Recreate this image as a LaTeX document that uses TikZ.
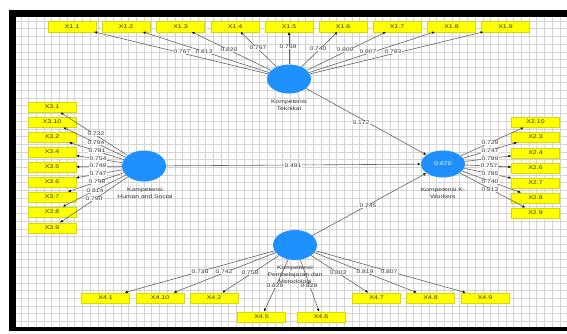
\documentclass[tikz,border=0pt]{standalone}
\usepackage{fontspec}
\setmainfont{Liberation Sans}[FakeStretch=1.3]
\usetikzlibrary{arrows.meta,shapes.geometric}
\definecolor{plsyellow}{RGB}{255,255,0}
\definecolor{plsblue}{RGB}{30,144,255}
\definecolor{gridgray}{RGB}{212,212,212}
\definecolor{linegray}{RGB}{100,100,100}
\tikzset{
 ind/.style={rectangle, fill=plsyellow, draw=plsyellow!85!black, line width=0.2pt, minimum width=48pt, minimum height=10.5pt, inner sep=0pt, font=\fontsize{5.4}{6}\selectfont, text=black!80},
 lv/.style={ellipse, fill=plsblue, minimum width=44pt, minimum height=29pt, inner sep=0pt, text=white, font=\fontsize{5.4}{6}\selectfont},
 lvlab/.style={font=\fontsize{5.2}{7}\selectfont, text=black!80, align=center, inner sep=0pt},
 ld/.style={fill=white, inner sep=0.6pt, font=\fontsize{5.2}{6}\selectfont, text=black!80},
 conn/.style={draw=linegray, line width=0.6pt, -{Latex[length=3pt,width=2.6pt,color=black]}},
 gridline/.style={draw=gridgray, line width=0.45pt},
}
\begin{document}
\begin{tikzpicture}[x=1pt,y=-1pt]
\useasboundingbox (0,0) rectangle (567,333);
\fill[white] (0,0) rectangle (567,333);
% grid
\foreach \i in {0,...,70} {\draw[gridline] ({20.8+7.7*\i},17) -- ({20.8+7.7*\i},327);}
\foreach \j in {0,...,39} {\draw[gridline] (16,{21+7.7*\j}) -- (567,{21+7.7*\j});}
% frame
\fill[black] (9,10) rectangle (567,17);
\fill[black] (9,10) rectangle (16,331);
\fill[black] (9,327) rectangle (567,331);

% latent variables
\node[lv] (tek) at (289,79) {};
\node[lv, minimum height=31pt] (hum) at (144,166) {};
\node[lv, minimum height=27pt] (kw) at (443,164) {0.670};
\node[lv, minimum height=30pt] (pem) at (295,245) {};

% top indicators
\node[ind] (x11) at (72,26.5) {X1.1};
\node[ind] (x12) at (126,26.5) {X1.2};
\node[ind] (x13) at (180.5,26.5) {X1.3};
\node[ind] (x14) at (235,26.5) {X1.4};
\node[ind] (x15) at (289,26.5) {X1.5};
\node[ind] (x16) at (343,26.5) {X1.6};
\node[ind] (x17) at (397,26.5) {X1.7};
\node[ind] (x18) at (451.5,26.5) {X1.8};
\node[ind] (x19) at (505.5,26.5) {X1.9};
% left indicators
\node[ind] (x31) at (52,107) {X3.1};
\node[ind] (x310) at (52,122) {X3.10};
\node[ind] (x32) at (52,137) {X3.2};
\node[ind] (x34) at (52,152) {X3.4};
\node[ind] (x35) at (52,167) {X3.5};
\node[ind] (x36) at (52,182) {X3.6};
\node[ind] (x37) at (52,197) {X3.7};
\node[ind] (x38) at (52,212) {X3.8};
\node[ind] (x39) at (52,228) {X3.9};
% right indicators
\node[ind] (x210) at (535.5,122) {X2.10};
\node[ind] (x23) at (535.5,137) {X2.3};
\node[ind] (x24) at (535.5,153) {X2.4};
\node[ind] (x26) at (535.5,168) {X2.6};
\node[ind] (x27) at (535.5,183) {X2.7};
\node[ind] (x28) at (535.5,198) {X2.8};
\node[ind] (x29) at (535.5,213) {X2.9};
% bottom indicators
\node[ind] (x41) at (105.5,298) {X4.1};
\node[ind] (x410) at (160,298) {X4.10};
\node[ind] (x42) at (214,298) {X4.2};
\node[ind] (x45) at (261.5,317) {X4.5};
\node[ind] (x46) at (321,317) {X4.6};
\node[ind] (x47) at (376.5,298) {X4.7};
\node[ind] (x48) at (430.5,298) {X4.8};
\node[ind] (x49) at (485,298) {X4.9};

% connectors
\foreach \b in {x11,x12,x13,x14,x15,x16,x17,x18,x19} {\draw[conn] (tek) -- (\b);}
\foreach \b in {x31,x310,x32,x34,x35,x36,x37,x38,x39} {\draw[conn] (hum) -- (\b);}
\foreach \b in {x210,x23,x24,x26,x27,x28,x29} {\draw[conn] (kw) -- (\b);}
\foreach \b in {x41,x410,x42,x45,x46,x47,x48,x49} {\draw[conn] (pem) -- (\b);}
\draw[conn] (tek) -- (kw);
\draw[conn] (hum) -- (kw);
\draw[conn] (pem) -- (kw);

% latent variable captions
\node[lvlab] (ctek) at (289,105.5) {Kompetensi\\Teknikal};
\node[lvlab] (chum) at (145,193) {Kompetensi\\Human and Social};
\node[lvlab] (ckw) at (443,193.5) {Kompetensi K-\\Workers};
\node[lvlab] (cpem) at (295,275) {Kompetensi\\Pembelajaran dan\\Metodologi};

% loadings top
\node[ld] (l11) at (182,52) {0.767};
\node[ld] (l12) at (204,52) {0.813};
\node[ld] (l13) at (229,50) {0.820};
\node[ld] (l14) at (258,48) {0.767};
\node[ld] (l15) at (288,47) {0.769};
\node[ld] (l16) at (318,49) {0.740};
\node[ld] (l17) at (345,50) {0.809};
\node[ld] (l18) at (368,52) {0.807};
\node[ld] (l19) at (393,52) {0.793};
% loadings left
\node[ld] (l31) at (96,134) {0.732};
\node[ld] (l310) at (96,143) {0.794};
\node[ld] (l32) at (97,151) {0.781};
\node[ld] (l34) at (98,159) {0.754};
\node[ld] (l35) at (98,166) {0.749};
\node[ld] (l36) at (98,174) {0.747};
\node[ld] (l37) at (97,182) {0.798};
\node[ld] (l38) at (95,191) {0.814};
\node[ld] (l39) at (94,199) {0.790};
% loadings right
\node[ld] (l210) at (490,143) {0.729};
\node[ld] (l23) at (490,151) {0.747};
\node[ld] (l24) at (490,159) {0.789};
\node[ld] (l26) at (489,166) {0.757};
\node[ld] (l27) at (490,174) {0.785};
\node[ld] (l28) at (490,182) {0.740};
\node[ld] (l29) at (490,190) {0.813};
% loadings bottom
\node[ld] (l41) at (200,272) {0.736};
\node[ld] (l410) at (224,272) {0.742};
\node[ld] (l42) at (250,273) {0.758};
\node[ld] (l45) at (275,286) {0.829};
\node[ld] (l46) at (309,286) {0.828};
\node[ld] (l47) at (338,273) {0.803};
\node[ld] (l48) at (365,272) {0.819};
\node[ld] (l49) at (389,272) {0.807};
% path coefficients
\node[ld] (p1) at (361,123) {0.172};
\node[ld] (p2) at (293,166) {0.491};
\node[ld] (p3) at (368,206) {0.245};
\end{tikzpicture}
\end{document}
